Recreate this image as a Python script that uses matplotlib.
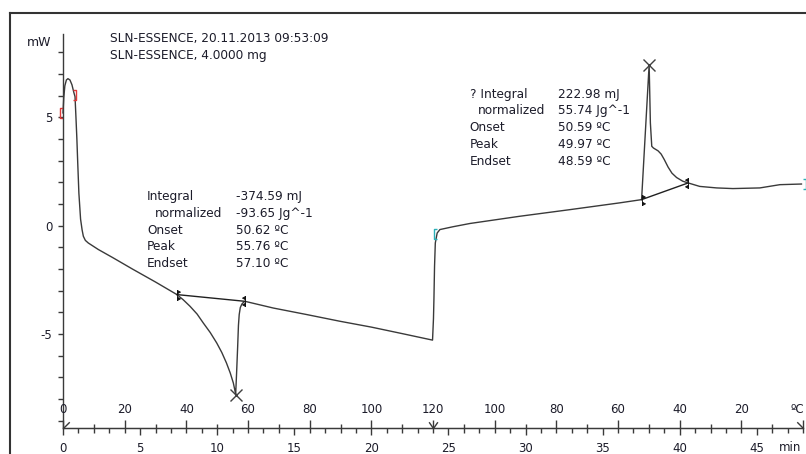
# dsc_sln_essence.py
# Curva DSC (calentamiento 0->120 C y enfriamiento 120->0 C) de SLN-ESSENCE.
import numpy as np
import matplotlib
matplotlib.use("Agg")
import matplotlib.pyplot as plt
from matplotlib.path import Path
from matplotlib.lines import Line2D


# curva medida: tiempo [min] y flujo de calor [mW]
t_min = [0.00, 0.05, 0.12, 0.22, 0.32, 0.45, 0.58, 0.70, 0.78, 0.84, 0.90, 0.95,
         1.03, 1.14, 1.24, 1.32, 1.45, 1.64, 2.29, 3.24, 4.50, 6.00, 7.39, 7.80,
         8.24, 8.70, 9.10, 9.55, 9.97, 10.30, 10.60, 10.85, 11.05, 11.15, 11.20,
         11.26, 11.33, 11.38, 11.43, 11.50, 11.60, 11.69, 11.80, 13.64, 15.80,
         17.96, 20.00, 22.00, 23.97, 24.03, 24.06, 24.10, 24.15, 24.27, 24.45,
         25.30, 26.40, 29.60, 32.90, 36.10, 37.53, 38.02, 38.10, 38.19, 38.30,
         38.60, 38.80, 39.00, 39.25, 39.50, 39.80, 40.20, 40.55, 41.30, 42.40,
         43.45, 45.20, 46.50, 47.90]
hf_mw = [5.20, 5.90, 6.45, 6.72, 6.78, 6.72, 6.50, 6.15, 5.95, 5.00, 4.00, 3.00,
         1.50, 0.30, -0.20, -0.49, -0.68, -0.80, -1.10, -1.48, -2.00, -2.60, -3.18, -3.42,
         -3.72, -4.08, -4.49, -4.93, -5.41, -5.85, -6.33, -6.80, -7.26, -7.60, -7.78,
         -6.80, -5.57, -4.60, -4.10, -3.78, -3.62, -3.55, -3.49, -3.80, -4.10,
         -4.41, -4.68, -4.98, -5.28, -4.30, -3.40, -1.88, -0.80, -0.34, -0.18,
         -0.05, 0.10, 0.43, 0.74, 1.05, 1.20, 7.43, 4.74, 3.66, 3.58,
         3.45, 3.30, 3.05, 2.70, 2.42, 2.22, 2.05, 1.97, 1.81, 1.74,
         1.71, 1.74, 1.89, 1.92]

# lineas base de integracion (onset, endset)
endo_base_t = [7.39, 11.80]
endo_base_mw = [-3.18, -3.49]
exo_base_t = [37.53, 40.55]
exo_base_mw = [1.20, 1.97]

# picos
peak_t = [11.20, 38.02]
peak_mw = [-7.80, 7.43]

# limites de segmento (rojo = calentamiento, cian = enfriamiento)
heat_lim_t = [0.00, 0.68]
heat_lim_mw = [5.20, 6.03]
cool_lim_t = [24.25, 48.00]
cool_lim_mw = [-0.40, 1.92]

# eje de tiempo y programa de temperatura
time_major = list(range(0, 46, 5))
temp_tick_t = list(range(0, 49, 4))
temp_tick_labels = ["0", "20", "40", "60", "80", "100", "120", "100", "80", "60", "40", "20", ""]
segment_t = [0, 24, 48]

endo_labels = ["Integral", "normalized", "Onset", "Peak", "Endset"]
endo_values = ["-374.59 mJ", "-93.65 Jg^-1", "50.62 \u00baC", "55.76 \u00baC", "57.10 \u00baC"]
exo_labels = ["? Integral", "normalized", "Onset", "Peak", "Endset"]
exo_values = ["222.98 mJ", "55.74 Jg^-1", "50.59 \u00baC", "49.97 \u00baC", "48.59 \u00baC"]

header = ["SLN-ESSENCE, 20.11.2013 09:53:09", "SLN-ESSENCE, 4.0000 mg"]

W, H = 806, 454
INK = "#1c1c2a"
LINE = "#3a3a3a"


def flag(side):
    s = side
    verts = [(0, 1), (0, -1),
             (0, 1), (0, 0.35), (0.6 * s, 0.675), (0, 1),
             (0, -1), (0, -0.35), (0.6 * s, -0.675), (0, -1)]
    codes = [Path.MOVETO, Path.LINETO,
             Path.MOVETO, Path.LINETO, Path.LINETO, Path.CLOSEPOLY,
             Path.MOVETO, Path.LINETO, Path.LINETO, Path.CLOSEPOLY]
    return Path(verts, codes)


def bracket(side):
    # side -1 -> "[", +1 -> "]"
    b = 0.6 * side
    return Path([(0, 1), (b, 1), (b, -1), (0, -1)],
                [Path.MOVETO, Path.LINETO, Path.LINETO, Path.LINETO])


def text_block(ax, x0, x1, y0, labels, values):
    dy = 16.8 / 21.68
    for i, (lab, val) in enumerate(zip(labels, values)):
        x = x0 + (0.52 if lab == "normalized" else 0.0)
        ax.text(x, y0 - i * dy, lab, fontsize=8.7, color=INK, va="center")
        ax.text(x1, y0 - i * dy, val, fontsize=8.7, color=INK, va="center")


def main():
    plt.rcParams["font.family"] = ["DejaVu Sans"]
    plt.rcParams["axes.unicode_minus"] = False
    fig = plt.figure(figsize=(W / 100, H / 100), dpi=100)
    ax = fig.add_axes([63 / W, 1 - 427.7 / H, (803 - 63) / W, (427.7 - 34) / H])
    ax.set_xlim(0, 48)
    ax.set_ylim(-9.32, 8.84)

    for s in ["top", "right"]:
        ax.spines[s].set_visible(False)
    for s in ["left", "bottom"]:
        ax.spines[s].set_color(LINE)
        ax.spines[s].set_linewidth(1.0)

    # eje Y
    ax.set_yticks([-5, 0, 5])
    ax.set_yticks(range(-9, 9), minor=True)
    ax.tick_params(axis="y", which="both", length=3.6, width=1, color=LINE,
                   direction="out", pad=4, labelsize=8.5, labelcolor=INK)

    # eje de tiempo (abajo)
    ax.set_xticks(time_major)
    ax.set_xticks([m for m in range(0, 49) if m % 5], minor=True)
    ax.tick_params(axis="x", which="major", length=5, width=1, color=LINE,
                   direction="out", pad=5.2, labelsize=8.5, labelcolor=INK)
    ax.tick_params(axis="x", which="minor", length=3.6, width=1, color=LINE, direction="out")

    # eje de temperatura (sobre la misma linea, hacia arriba)
    ax2 = ax.twiny()
    ax2.set_xlim(0, 48)
    ax2.spines["top"].set_position(("axes", 0))
    for s in ["bottom", "left", "right"]:
        ax2.spines[s].set_visible(False)
    ax2.spines["top"].set_color(LINE)
    ax2.set_xticks(temp_tick_t)
    ax2.set_xticklabels(temp_tick_labels)
    ax2.set_xticks(np.arange(2, 48, 4), minor=True)
    ax2.tick_params(axis="x", which="major", length=5.5, width=1, color=LINE,
                    direction="out", pad=2.8, labelsize=8.5, labelcolor=INK)
    ax2.tick_params(axis="x", which="minor", length=2.9, width=1, color=LINE, direction="out")

    # curva y evaluaciones
    ax.plot(t_min, hf_mw, color=LINE, lw=1.0, clip_on=False)
    ax.plot(endo_base_t, endo_base_mw, color="#202020", lw=1.0)
    ax.plot(exo_base_t, exo_base_mw, color="#202020", lw=1.0)
    ax.plot(peak_t, peak_mw, "x", color="#404040", ms=8, mew=1.0)
    for bt, bm in [(endo_base_t, endo_base_mw), (exo_base_t, exo_base_mw)]:
        ax.plot(bt[0], bm[0], marker=flag(1), ms=7.2, color="#111111", mew=0.6)
        ax.plot(bt[1], bm[1], marker=flag(-1), ms=7.2, color="#111111", mew=0.6)

    ax.plot(heat_lim_t[0], heat_lim_mw[0], marker=bracket(-1), ms=6.5, mfc="none",
            mec="#e03a3a", mew=1.0, clip_on=False)
    ax.plot(heat_lim_t[1], heat_lim_mw[1], marker=bracket(1), ms=6.5, mfc="none",
            mec="#e03a3a", mew=1.0, clip_on=False)
    ax.plot(cool_lim_t[0], cool_lim_mw[0], marker=bracket(-1), ms=6.5, mfc="none",
            mec="#2ab0b8", mew=1.0, clip_on=False)
    ax.plot(cool_lim_t[1], cool_lim_mw[1], marker=bracket(1), ms=6.5, mfc="none",
            mec="#2ab0b8", mew=1.0, clip_on=False)

    # marcas de segmento del programa de temperatura
    seg_marks = [Path([(0, 0), (1, 1)]), Path([(-0.7, 1), (0, 0), (0.7, 1)]), Path([(-1, 1), (0, 0)])]
    ybot = ax.get_ylim()[0]
    for st, mk in zip(segment_t, seg_marks):
        ax.plot(st, ybot, marker=mk, ms=9, mfc="none", mec=LINE, mew=1.0, clip_on=False)

    # textos
    ax.text(3.05, 8.62, header[0], fontsize=8.7, color=INK, va="center")
    ax.text(3.05, 7.84, header[1], fontsize=8.7, color=INK, va="center")
    ax.text(-1.52, 8.46, "mW", fontsize=9, color=INK, ha="center", va="center")
    text_block(ax, 5.45, 11.22, 1.34, endo_labels, endo_values)
    text_block(ax, 26.39, 32.10, 6.07, exo_labels, exo_values)

    ax.annotate("min", xy=(47.15, 0), xycoords=("data", "axes fraction"),
                xytext=(0, -14.0), textcoords="offset points",
                fontsize=8.5, color=INK, ha="center", va="center")
    ax.annotate("\u00baC", xy=(48, 0), xycoords=("data", "axes fraction"),
                xytext=(0.5, 13.1), textcoords="offset points",
                fontsize=8.5, color=INK, ha="right", va="center")

    # marco exterior
    fig.add_artist(Line2D([10 / W, 10 / W], [0, 1 - 12.5 / H], color="#333333", lw=1.5))
    fig.add_artist(Line2D([10 / W, 1], [1 - 12.5 / H, 1 - 12.5 / H], color="#333333", lw=1.5))

    fig.savefig("out.png", dpi=100)
    plt.close(fig)


if __name__ == "__main__":
    main()
